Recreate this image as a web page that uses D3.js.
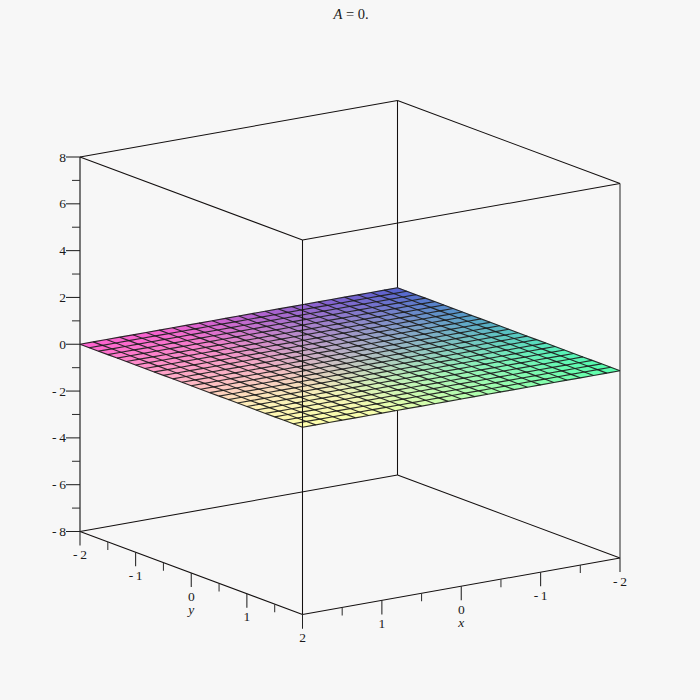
<!DOCTYPE html>
<html><head><meta charset="utf-8">
<script src="https://cdn.jsdelivr.net/npm/d3@7/dist/d3.min.js"></script>
<style>html,body{margin:0;padding:0;background:#f7f7f7}svg{display:block}text{font-family:"Liberation Serif",serif;fill:#1a1a1a}</style>
</head><body><svg id="c" width="700" height="700"></svg>
<script>
const xGrid=[-2,-1.8333,-1.6667,-1.5,-1.3333,-1.1667,-1,-0.8333,-0.6667,-0.5,-0.3333,-0.1667,0,0.1667,0.3333,0.5,0.6667,0.8333,1,1.1667,1.3333,1.5,1.6667,1.8333,2];
const yGrid=[-2,-1.8333,-1.6667,-1.5,-1.3333,-1.1667,-1,-0.8333,-0.6667,-0.5,-0.3333,-0.1667,0,0.1667,0.3333,0.5,0.6667,0.8333,1,1.1667,1.3333,1.5,1.6667,1.8333,2];
const zHeight=0; // A = 0: the surface is flat
const xMajor=[-2,-1,0,1,2], xMinor=[-1.5,-0.5,0.5,1.5];
const yMajor=[-2,-1,0,1,2], yMinor=[-1.5,-0.5,0.5,1.5];
const zMajor=[-8,-6,-4,-2,0,2,4,6,8], zMinor=[-7,-5,-3,-1,1,3,5,7];
const colourStops=[-2,0,1,2];
const redByX=[85,188,245,255];
const greenByY=[95,188,242,255];
const blueByY=[208,195,185,172];

const svg=d3.select("#c");
const hx=d3.scaleLinear([-2,2],[317.5,0]), hy=d3.scaleLinear([-2,2],[0,222.5]);
const vx=d3.scaleLinear([-2,2],[-56.5,0]), vy=d3.scaleLinear([-2,2],[0,83]);
const vz=d3.scaleLinear([-8,8],[531.5,157]);
const X=(x,y)=>80+hx(x)+hy(y);
const Y=(x,y,z)=>vz(z)+vx(x)+vy(y);
const P=(x,y,z)=>[X(x,y),Y(x,y,z)];
const ink="#141010";
function seg(a,b,col,w){svg.append("line").attr("x1",a[0]).attr("y1",a[1]).attr("x2",b[0]).attr("y2",b[1]).attr("stroke",col||ink).attr("stroke-width",w||1.05);}

// back box edges (behind the surface)
seg(P(-2,-2,-8),P(-2,-2,8));
seg(P(-2,-2,8),P(2,-2,8)); seg(P(-2,-2,8),P(-2,2,8));
seg(P(-2,-2,-8),P(2,-2,-8)); seg(P(-2,-2,-8),P(-2,2,-8));
seg(P(2,-2,-8),P(2,-2,8),"#333",1.3); seg(P(-2,2,-8),P(-2,2,8),"#555",1.3);

// surface cells
const r=d3.scaleLinear(colourStops,redByX), g=d3.scaleLinear(colourStops,greenByY), b=d3.scaleLinear(colourStops,blueByY);
const cells=d3.cross(d3.range(xGrid.length-1),d3.range(yGrid.length-1));
const line=d3.line();
const cellColour=([i,j])=>{const x=(xGrid[i]+xGrid[i+1])/2,y=(yGrid[j]+yGrid[j+1])/2;return d3.rgb(r(x),g(y),b(y)).formatRgb();};
svg.append("g").selectAll("path").data(cells).join("path")
 .attr("d",([i,j])=>line([P(xGrid[i],yGrid[j],zHeight),P(xGrid[i+1],yGrid[j],zHeight),P(xGrid[i+1],yGrid[j+1],zHeight),P(xGrid[i],yGrid[j+1],zHeight)])+"Z")
 .attr("fill",cellColour).attr("stroke",cellColour).attr("stroke-width",.4);
// surface mesh
const mesh=svg.append("g").attr("stroke","#1c1c1c").attr("stroke-width",1.15).attr("stroke-opacity",.92).attr("fill","none");
xGrid.forEach(x=>mesh.append("path").attr("d",line(yGrid.map(y=>P(x,y,zHeight)))));
yGrid.forEach(y=>mesh.append("path").attr("d",line(xGrid.map(x=>P(x,y,zHeight)))));

// front box edges
seg(P(2,2,-8),P(2,2,8));
seg(P(2,2,8),P(2,-2,8)); seg(P(2,2,8),P(-2,2,8));
seg(P(2,2,-8),P(2,-2,-8)); seg(P(2,2,-8),P(-2,2,-8));

// ticks
const major=14, minor=8;
zMajor.forEach(z=>seg([80-major,vz(z)],[80,vz(z)],"#222"));
zMinor.forEach(z=>seg([80-minor,vz(z)],[80,vz(z)],"#333"));
xMajor.forEach(x=>{const p=P(x,2,-8);seg(p,[p[0],p[1]+major],"#222");});
xMinor.forEach(x=>{const p=P(x,2,-8);seg(p,[p[0],p[1]+minor],"#333");});
yMajor.forEach(y=>{const p=P(2,y,-8);seg(p,[p[0],p[1]+major],"#222");});
yMinor.forEach(y=>{const p=P(2,y,-8);seg(p,[p[0],p[1]+minor],"#333");});

const lab=v=>v<0?"-\u2009"+(-v):""+v;
const fs=13.5;
svg.append("g").selectAll("text").data(zMajor).join("text")
 .attr("x",66).attr("y",z=>vz(z)+4.5).attr("text-anchor","end").attr("font-size",fs).text(lab);
svg.append("g").selectAll("text").data(xMajor).join("text")
 .attr("x",x=>X(x,2)).attr("y",x=>Y(x,2,-8)+27.5).attr("text-anchor","middle").attr("font-size",fs).text(lab);
svg.append("g").selectAll("text").data(yMajor.slice(0,-1)).join("text")
 .attr("x",y=>X(2,y)).attr("y",y=>Y(2,y,-8)+27.5).attr("text-anchor","middle").attr("font-size",fs).text(lab);
svg.append("text").attr("x",X(0,2)).attr("y",Y(0,2,-8)+41).attr("text-anchor","middle").attr("font-size",fs).attr("font-style","italic").text("x");
svg.append("text").attr("x",X(2,0)).attr("y",Y(2,0,-8)+41).attr("text-anchor","middle").attr("font-size",fs).attr("font-style","italic").text("y");

const t=svg.append("text").attr("x",351).attr("y",19).attr("text-anchor","middle").attr("font-size",14.5);
t.append("tspan").attr("font-style","italic").text("A");
t.append("tspan").text(" = 0.");
</script></body></html>
